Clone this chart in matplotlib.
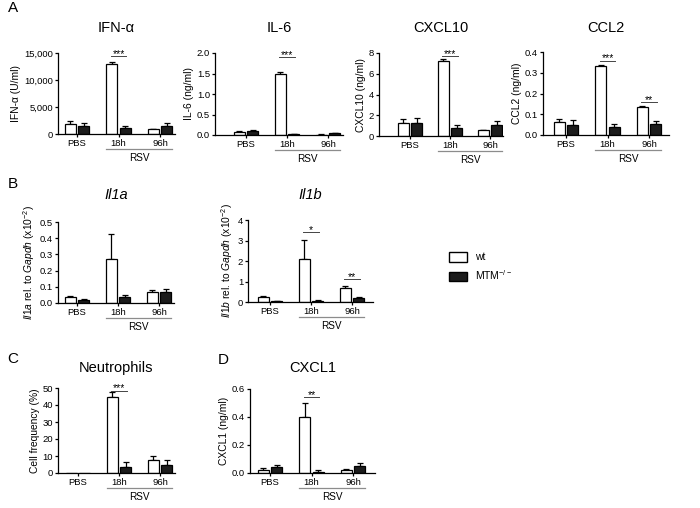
import numpy as np
import matplotlib.pyplot as plt
import matplotlib.transforms as mtransforms
from matplotlib.patches import Patch
from matplotlib.ticker import FuncFormatter

plt.rcParams['font.family'] = ['Liberation Sans', 'DejaVu Sans']
plt.rcParams['mathtext.fontset'] = 'custom'
plt.rcParams['mathtext.rm'] = 'Liberation Sans'
plt.rcParams['mathtext.it'] = 'Liberation Sans:italic'
plt.rcParams['axes.linewidth'] = 0.9

W, H = 700, 508

groups = ['PBS', '18h', '96h']

# panel A
ifna_wt = [1900, 12900, 850]
ifna_wt_err = [550, 400, 150]
ifna_ko = [1500, 1100, 1500]
ifna_ko_err = [600, 450, 450]

il6_wt = [0.08, 1.49, 0.01]
il6_wt_err = [0.02, 0.05, 0.005]
il6_ko = [0.09, 0.02, 0.04]
il6_ko_err = [0.04, 0.01, 0.015]

cxcl10_wt = [1.25, 7.2, 0.55]
cxcl10_wt_err = [0.35, 0.2, 0.05]
cxcl10_ko = [1.3, 0.8, 1.05]
cxcl10_ko_err = [0.4, 0.25, 0.4]

ccl2_wt = [0.062, 0.333, 0.133]
ccl2_wt_err = [0.017, 0.003, 0.008]
ccl2_ko = [0.05, 0.037, 0.052]
ccl2_ko_err = [0.02, 0.015, 0.015]

# panel B
il1a_wt = [0.037, 0.27, 0.07]
il1a_wt_err = [0.008, 0.155, 0.01]
il1a_ko = [0.02, 0.035, 0.065]
il1a_ko_err = [0.005, 0.015, 0.023]

il1b_wt = [0.22, 2.08, 0.67]
il1b_wt_err = [0.07, 0.95, 0.12]
il1b_ko = [0.03, 0.07, 0.18]
il1b_ko_err = [0.01, 0.02, 0.04]

# panel C, D
neut_wt = [0, 44.5, 7.5]
neut_wt_err = [0, 3.2, 2.6]
neut_ko = [0, 3.5, 4.5]
neut_ko_err = [0, 3.2, 3.2]

cxcl1_wt = [0.025, 0.40, 0.018]
cxcl1_wt_err = [0.01, 0.10, 0.008]
cxcl1_ko = [0.04, 0.01, 0.05]
cxcl1_ko_err = [0.015, 0.008, 0.025]

# significance marks: (group, line height, stars)
ifna_sig = [(1, 14400, '***')]
il6_sig = [(1, 1.9, '***')]
cxcl10_sig = [(1, 7.7, '***')]
ccl2_sig = [(1, 0.358, '***'), (2, 0.16, '**')]
il1a_sig = []
il1b_sig = [(1, 3.4, '*'), (2, 1.12, '**')]
neut_sig = [(1, 48.5, '***')]
cxcl1_sig = [(1, 0.54, '**')]

fig = plt.figure(figsize=(7, 5.08), dpi=100)


def comma(v, pos):
    return '{:,.0f}'.format(v)


def panel(box, wt, wt_err, ko, ko_err, sig, ylim, yticks, ylabel, fmt=None):
    left, right, top, bottom, c0, c2 = box
    sp = (c2 - c0) / 2.0
    ax = fig.add_axes([left / W, 1 - bottom / H, (right - left) / W, (bottom - top) / H])
    x = np.arange(len(groups))
    bw = 11.0 / sp
    off = 6.7 / sp
    ax.bar(x - off, wt, bw, color='white', edgecolor='black', linewidth=0.9, zorder=2)
    ax.bar(x + off, ko, bw, color='#1c1c1c', edgecolor='black', linewidth=0.9, zorder=2)
    for xs, vals, errs in [(x - off, wt, wt_err), (x + off, ko, ko_err)]:
        for xi, v, e in zip(xs, vals, errs):
            if e > 0:
                ax.errorbar(xi, v, yerr=[[0], [e]], fmt='none', ecolor='black',
                            elinewidth=0.9, capsize=2.2, capthick=0.9, zorder=1)
    for g, yl, s in sig:
        ax.plot([g - off - 1 / sp, g + off + 1 / sp], [yl, yl], color='#444444', lw=0.7,
                clip_on=False)
        ax.annotate(s, (g, yl), xytext=(0, -0.6), textcoords='offset points',
                    ha='center', va='baseline', fontsize=7.5)
    ax.set_xlim((left - c0) / sp, (right - c0) / sp)
    ax.set_ylim(*ylim)
    ax.set_yticks(yticks)
    if fmt is not None:
        ax.yaxis.set_major_formatter(fmt)
    ax.set_xticks(x)
    ax.set_xticklabels(groups)
    ax.spines['top'].set_visible(False)
    ax.spines['right'].set_visible(False)
    ax.tick_params(axis='both', labelsize=6.8, width=0.9, length=2.5, pad=1)
    ax.set_ylabel(ylabel, fontsize=7.4, labelpad=2)
    # RSV bracket below the infected groups
    base = mtransforms.blended_transform_factory(ax.transData, ax.transAxes)
    tl = base + mtransforms.ScaledTranslation(0, -15 / 100, fig.dpi_scale_trans)
    ax.plot([1 - off - bw / 2, 2 + off + bw / 2], [0, 0], color='#8c8c8c', lw=0.9,
            transform=tl, clip_on=False)
    tt = base + mtransforms.ScaledTranslation(0, -24 / 100, fig.dpi_scale_trans)
    ax.text(1.5, 0, 'RSV', ha='center', va='center', fontsize=7.2, transform=tt)
    return ax


def title(ax, text, y, style='normal'):
    bb = ax.get_position()
    fig.text((bb.x0 + bb.x1) / 2, 1 - y / H, text, ha='center', va='center',
             fontsize=10.5, fontstyle=style)


a1 = panel((58, 175, 53, 134, 77, 160), ifna_wt, ifna_wt_err, ifna_ko, ifna_ko_err, ifna_sig,
           (0, 15000), [0, 5000, 10000, 15000], 'IFN-α (U/ml)', FuncFormatter(comma))
a2 = panel((215, 343, 53, 135, 246, 328), il6_wt, il6_wt_err, il6_ko, il6_ko_err, il6_sig,
           (0, 2.0), [0, 0.5, 1.0, 1.5, 2.0], 'IL-6 (ng/ml)', FuncFormatter(lambda v, p: '%.1f' % v))
a3 = panel((379, 503, 53, 136, 410, 490), cxcl10_wt, cxcl10_wt_err, cxcl10_ko, cxcl10_ko_err,
           cxcl10_sig, (0, 8), [0, 2, 4, 6, 8], 'CXCL10 (ng/ml)')
a4 = panel((543, 669, 52, 135, 566, 649), ccl2_wt, ccl2_wt_err, ccl2_ko, ccl2_ko_err, ccl2_sig,
           (0, 0.4), [0, 0.1, 0.2, 0.3, 0.4], 'CCL2 (ng/ml)', FuncFormatter(lambda v, p: '%.1f' % v))
b1 = panel((58, 174, 222, 303, 77, 159), il1a_wt, il1a_wt_err, il1a_ko, il1a_ko_err, il1a_sig,
           (0, 0.5), [0, 0.1, 0.2, 0.3, 0.4, 0.5],
           r'$\it{Il1a}$ rel. to $\it{Gapdh}$ (x10$^{-2}$)', FuncFormatter(lambda v, p: '%.1f' % v))
b2 = panel((248, 373, 220, 302, 270, 352), il1b_wt, il1b_wt_err, il1b_ko, il1b_ko_err, il1b_sig,
           (0, 4), [0, 1, 2, 3, 4], r'$\it{Il1b}$ rel. to $\it{Gapdh}$ (x10$^{-2}$)')
c1 = panel((58, 175, 388, 473, 78, 160), neut_wt, neut_wt_err, neut_ko, neut_ko_err, neut_sig,
           (0, 50), [0, 10, 20, 30, 40, 50], 'Cell frequency (%)')
d1 = panel((250, 375, 389, 473, 270, 353), cxcl1_wt, cxcl1_wt_err, cxcl1_ko, cxcl1_ko_err, cxcl1_sig,
           (0, 0.6), [0, 0.2, 0.4, 0.6], 'CXCL1 (ng/ml)', FuncFormatter(lambda v, p: '%.1f' % v))

title(a1, 'IFN-α', 28)
title(a2, 'IL-6', 28)
title(a3, 'CXCL10', 28)
title(a4, 'CCL2', 28)
title(b1, 'Il1a', 195, 'italic')
title(b2, 'Il1b', 195, 'italic')
title(c1, 'Neutrophils', 368)
title(d1, 'CXCL1', 368)

for lab, px, py in [('A', 13, 8), ('B', 13, 184), ('C', 13, 359), ('D', 223, 360)]:
    fig.text(px / W, 1 - py / H, lab, ha='center', va='center', fontsize=11)

handles = [Patch(facecolor='white', edgecolor='black', linewidth=1.0),
           Patch(facecolor='#1c1c1c', edgecolor='black', linewidth=1.0)]
fig.legend(handles, ['wt', 'MTM$^{-/-}$'], loc='upper left',
           bbox_to_anchor=(449 / W, 1 - 252 / H), frameon=False, fontsize=7.5,
           handlelength=1.75, handleheight=1.05, labelspacing=0.55, handletextpad=0.7,
           borderpad=0, borderaxespad=0)

fig.savefig('out.png', dpi=100)
